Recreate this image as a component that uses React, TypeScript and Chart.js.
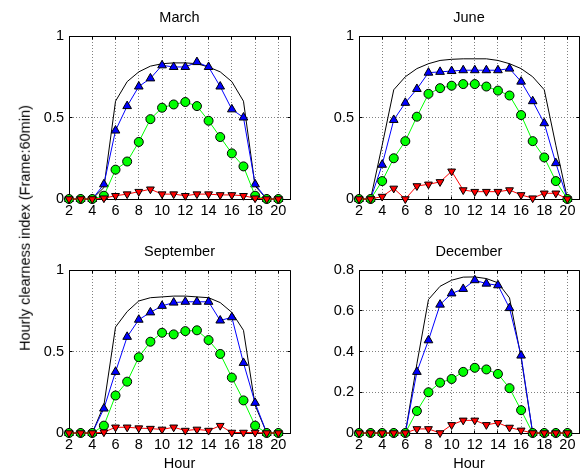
import React, { useEffect, useRef } from 'react';
import { Chart, registerables } from 'chart.js';

Chart.register(...registerables);

// ---------- data ----------
const hours = [2, 3, 4, 5, 6, 7, 8, 9, 10, 11, 12, 13, 14, 15, 16, 17, 18, 19, 20];
const xTickValues = [2, 4, 6, 8, 10, 12, 14, 16, 18, 20];
const xMin = 2;
const xMax = 21;

const yTicksFull = [0, 0.5, 1];
const yLabelsFull = ['0', '0.5', '1'];
const yTicksDec = [0, 0.2, 0.4, 0.6, 0.8];
const yLabelsDec = ['0', '0.2', '0.4', '0.6', '0.8'];

const marClear = [0, 0, 0, 0.07, 0.6, 0.72, 0.78, 0.815, 0.83, 0.835, 0.835, 0.83, 0.81, 0.78, 0.72, 0.6, 0.08, 0, 0];
const marBlue = [0, 0, 0, 0.09, 0.42, 0.57, 0.69, 0.74, 0.82, 0.81, 0.81, 0.84, 0.81, 0.69, 0.55, 0.5, 0.09, 0, 0];
const marGreen = [0, 0, 0, 0.02, 0.18, 0.23, 0.35, 0.49, 0.56, 0.58, 0.595, 0.57, 0.48, 0.38, 0.28, 0.2, 0.02, 0, 0];
const marRed = [0, 0, 0, 0.005, 0.02, 0.03, 0.045, 0.06, 0.03, 0.03, 0.02, 0.03, 0.03, 0.025, 0.025, 0.02, 0.005, 0, 0];

const junClear = [0, 0, 0.33, 0.67, 0.75, 0.8, 0.83, 0.85, 0.857, 0.86, 0.86, 0.86, 0.85, 0.83, 0.8, 0.75, 0.67, 0.33, 0];
const junBlue = [0, 0, 0.21, 0.485, 0.59, 0.675, 0.775, 0.78, 0.785, 0.79, 0.79, 0.79, 0.79, 0.8, 0.72, 0.6, 0.465, 0.22, 0];
const junGreen = [0, 0, 0.11, 0.25, 0.355, 0.505, 0.645, 0.68, 0.695, 0.705, 0.705, 0.69, 0.665, 0.635, 0.515, 0.355, 0.255, 0.11, 0];
const junRed = [0, 0, 0.015, 0.065, 0, 0.08, 0.09, 0.105, 0.17, 0.055, 0.045, 0.045, 0.045, 0.055, 0.025, 0.005, 0.035, 0.035, 0];

const sepClear = [0, 0, 0, 0.17, 0.65, 0.745, 0.81, 0.83, 0.835, 0.84, 0.84, 0.835, 0.83, 0.8, 0.74, 0.63, 0.17, 0, 0];
const sepBlue = [0, 0, 0, 0.15, 0.375, 0.59, 0.695, 0.74, 0.78, 0.8, 0.805, 0.805, 0.805, 0.69, 0.71, 0.43, 0.185, 0, 0];
const sepGreen = [0, 0, 0, 0.045, 0.23, 0.315, 0.465, 0.56, 0.615, 0.605, 0.625, 0.63, 0.57, 0.485, 0.34, 0.2, 0.045, 0, 0];
const sepRed = [0, 0, 0, 0.005, 0.035, 0.035, 0.03, 0.027, 0.022, 0.035, 0.015, 0.022, 0.015, 0.045, 0.003, 0.003, 0.003, 0, 0];

const decClear = [0, 0, 0, 0, 0, 0.34, 0.655, 0.72, 0.75, 0.765, 0.766, 0.758, 0.737, 0.663, 0.37, 0, 0, 0, 0];
const decBlue = [0, 0, 0, 0, 0, 0.3, 0.455, 0.63, 0.685, 0.707, 0.75, 0.733, 0.725, 0.613, 0.38, 0, 0, 0, 0];
const decGreen = [0, 0, 0, 0, 0, 0.108, 0.2, 0.247, 0.265, 0.3, 0.32, 0.312, 0.29, 0.22, 0.112, 0, 0, 0, 0];
const decRed = [0, 0, 0, 0, 0, 0.02, 0.02, 0, 0.04, 0.062, 0.062, 0.04, 0.05, 0.027, 0.013, 0, 0, 0, 0];

const yAxisLabel = 'Hourly clearness index (Frame:60min)';
const xAxisLabel = 'Hour';

// ---------- style ----------
const FONT = '"Liberation Sans", Arial, Helvetica, sans-serif';
const FS = 14.5;
const GRID = '#808080';

Chart.defaults.font.family = FONT;
Chart.defaults.color = '#000';

function align(v: number) {
  return Math.round(v - 0.5) + 0.5;
}

const boxTicks = {
  id: 'boxTicks',
  beforeDatasetsDraw(chart: any) {
    const { ctx, chartArea: a, scales } = chart;
    const xs = scales.x;
    const ys = scales.y;
    const L = align(a.left);
    const R = align(a.right);
    const T = align(a.top);
    const B = align(a.bottom);
    ctx.save();
    ctx.strokeStyle = '#000';
    ctx.lineWidth = 1;
    ctx.setLineDash([]);
    ctx.beginPath();
    ctx.moveTo(L, T);
    ctx.lineTo(R, T);
    ctx.lineTo(R, B);
    ctx.stroke();
    const tl = 3;
    ctx.beginPath();
    xs.ticks.forEach((t: any) => {
      const px = align(xs.getPixelForValue(t.value));
      ctx.moveTo(px, B);
      ctx.lineTo(px, B - tl);
      ctx.moveTo(px, T);
      ctx.lineTo(px, T + tl);
    });
    ys.ticks.forEach((t: any) => {
      const py = align(ys.getPixelForValue(t.value));
      ctx.moveTo(L, py);
      ctx.lineTo(L + tl, py);
      ctx.moveTo(R, py);
      ctx.lineTo(R - tl, py);
    });
    ctx.stroke();
    ctx.restore();
  },
};

type PanelProps = {
  title: string;
  clear: number[];
  blue: number[];
  green: number[];
  red: number[];
  yTicks: number[];
  yLabels: string[];
  yMax: number;
  showXTitle: boolean;
  left: number;
  top: number;
  width: number;
  height: number;
  yWidth: number;
  padRight: number;
  titlePadTop: number;
  xHeight: number;
};

function Panel(p: PanelProps) {
  const ref = useRef<HTMLCanvasElement>(null);
  useEffect(() => {
    const canvas = ref.current!;
    const pts = (arr: number[]) => hours.map((h, i) => ({ x: h, y: arr[i] }));
    const chart = new Chart(canvas, {
      type: 'line',
      data: {
        datasets: [
          {
            label: 'red',
            data: pts(p.red),
            borderColor: '#ff0000',
            borderWidth: 1,
            pointStyle: 'triangle',
            rotation: 180,
            pointRadius: 4.5,
            pointBackgroundColor: '#ff0000',
            pointBorderColor: '#000',
            pointBorderWidth: 1,
            tension: 0,
            clip: false,
            order: 0,
          } as any,
          {
            label: 'green',
            data: pts(p.green),
            borderColor: '#00ff00',
            borderWidth: 1,
            pointStyle: 'circle',
            pointRadius: 4.5,
            pointBackgroundColor: '#00ff00',
            pointBorderColor: '#000',
            pointBorderWidth: 1,
            tension: 0,
            clip: false,
            order: 1,
          },
          {
            label: 'blue',
            data: pts(p.blue),
            borderColor: '#0000ff',
            borderWidth: 1,
            pointStyle: 'triangle',
            pointRadius: 5,
            pointBackgroundColor: '#0000ff',
            pointBorderColor: '#000',
            pointBorderWidth: 1,
            tension: 0,
            clip: false,
            order: 2,
          },
          {
            label: 'clear',
            data: pts(p.clear),
            borderColor: '#000',
            borderWidth: 1,
            pointRadius: 0,
            tension: 0,
            clip: false,
            order: 3,
          },
        ],
      },
      options: {
        responsive: false,
        animation: false,
        devicePixelRatio: 1,
        layout: { padding: { left: 0, right: p.padRight, top: 0, bottom: 0 } },
        plugins: {
          legend: { display: false },
          tooltip: { enabled: false },
          title: {
            display: true,
            text: p.title,
            fullSize: false,
            color: '#000',
            font: { size: FS, weight: 'normal', family: FONT },
            padding: { top: p.titlePadTop, bottom: 9.3 },
          },
        },
        scales: {
          x: {
            type: 'linear',
            min: xMin,
            max: xMax,
            afterBuildTicks: (s: any) => {
              s.ticks = xTickValues.map((v) => ({ value: v }));
            },
            afterFit: (s: any) => {
              s.height = p.xHeight;
            },
            ticks: {
              autoSkip: false,
              maxRotation: 0,
              minRotation: 0,
              padding: 3,
              color: '#000',
              font: { size: FS, family: FONT },
              callback: (v: any) => String(v),
            },
            grid: { color: GRID, lineWidth: 1, drawTicks: false },
            border: { display: true, color: '#000', width: 1, dash: [1, 2] },
            title: {
              display: p.showXTitle,
              text: xAxisLabel,
              color: '#000',
              font: { size: FS, family: FONT },
              padding: { top: 0, bottom: 1.3 },
            },
          },
          y: {
            type: 'linear',
            min: 0,
            max: p.yMax,
            afterBuildTicks: (s: any) => {
              s.ticks = p.yTicks.map((v) => ({ value: v }));
            },
            afterFit: (s: any) => {
              s.width = p.yWidth;
            },
            ticks: {
              padding: 5,
              color: '#000',
              font: { size: FS, family: FONT },
              callback: (v: any) => {
                const i = p.yTicks.findIndex((t) => Math.abs(t - v) < 1e-9);
                return i >= 0 ? p.yLabels[i] : '';
              },
            },
            grid: { color: GRID, lineWidth: 1, drawTicks: false },
            border: { display: true, color: '#000', width: 1, dash: [1, 2] },
          },
        },
      } as any,
      plugins: [boxTicks],
    });
    return () => chart.destroy();
  }, []);
  return (
    <canvas
      ref={ref}
      width={p.width}
      height={p.height}
      style={{ position: 'absolute', left: p.left, top: p.top, width: p.width, height: p.height, display: 'block' }}
    />
  );
}

export default function App() {
  return (
    <div style={{ position: 'absolute', left: 0, top: 0, width: 585, height: 474, background: '#fff', overflow: 'hidden' }}>
      <Panel title="March" clear={marClear} blue={marBlue} green={marGreen} red={marRed}
        yTicks={yTicksFull} yLabels={yLabelsFull} yMax={1} showXTitle={false}
        left={0} top={0} width={300} height={237} yWidth={69} padRight={10} titlePadTop={9.3} xHeight={38} />
      <Panel title="June" clear={junClear} blue={junBlue} green={junGreen} red={junRed}
        yTicks={yTicksFull} yLabels={yLabelsFull} yMax={1} showXTitle={false}
        left={300} top={0} width={285} height={237} yWidth={59} padRight={5} titlePadTop={9.3} xHeight={38} />
      <Panel title="September" clear={sepClear} blue={sepBlue} green={sepGreen} red={sepRed}
        yTicks={yTicksFull} yLabels={yLabelsFull} yMax={1} showXTitle={true}
        left={0} top={237} width={300} height={237} yWidth={69} padRight={10} titlePadTop={6.3} xHeight={41} />
      <Panel title="December" clear={decClear} blue={decBlue} green={decGreen} red={decRed}
        yTicks={yTicksDec} yLabels={yLabelsDec} yMax={0.8} showXTitle={true}
        left={300} top={237} width={285} height={237} yWidth={59} padRight={5} titlePadTop={6.3} xHeight={41} />
      <div
        style={{
          position: 'absolute',
          left: 25,
          top: 228,
          transform: 'translate(-50%, -50%) rotate(-90deg)',
          whiteSpace: 'nowrap',
          fontFamily: FONT,
          fontSize: FS,
          lineHeight: 1,
          color: '#000',
        }}
      >
        {yAxisLabel}
      </div>
    </div>
  );
}
